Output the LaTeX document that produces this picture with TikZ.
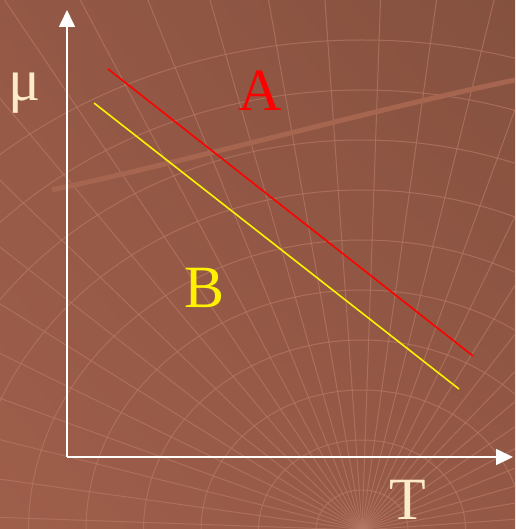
\documentclass[tikz,border=0pt]{standalone}
\usepackage{fontspec}
\setmainfont{Liberation Serif}
\usetikzlibrary{arrows.meta,shadings}
\definecolor{bgdark}{HTML}{85513F}
\definecolor{bglight}{HTML}{9E5E4A}
\definecolor{gridline}{HTML}{B57864}
\definecolor{bandline}{HTML}{A5654F}
\definecolor{cream}{HTML}{FBEBC6}
\definecolor{yellowline}{HTML}{FFF200}
\tikzset{
  axis/.style={white,line width=1.6pt,-{Triangle[width=16pt,length=17pt]}},
  phase/.style={line width=1.6pt},
  biglabel/.style={font=\fontsize{60}{60}\selectfont,inner sep=0pt},
  mesh/.style={gridline,line width=1pt,opacity=0.7}
}
\begin{document}
\begin{tikzpicture}[x=1pt,y=-1pt]
  \useasboundingbox (0,0) rectangle (515,529);
  \shade[lower left=bglight,lower right=bglight!60!bgdark,upper left=bglight!60!bgdark,upper right=bgdark]
    (0,0) rectangle (515,529);
  % background mesh
  \begin{scope}
    \clip (0,0) rectangle (515,529);
    \coordinate (fan) at (362,530);
    \foreach \r in {40,90,...,490}
      \draw[mesh] (fan) ellipse ({1.15*\r} and \r);
    \foreach \a in {4,10,...,178}
      \draw[mesh] (fan) -- ++({cos(\a)*800},{-sin(\a)*800});
    \draw[bandline,line width=5pt] (52,190) .. controls (200,158) and (380,108) .. (515,80);
  \end{scope}
  % axes
  \coordinate (origin) at (67,457);
  \coordinate (ytip) at (67,10);
  \coordinate (xtip) at (513,457);
  \draw[axis] (origin) -- (ytip);
  \draw[axis] (origin) -- (xtip);
  \node[biglabel,cream] (mu) at (25,93) {μ};
  \node[biglabel,cream] (temp) at (408,500) {T};
  % phase lines
  \coordinate (a1) at (108,69);
  \coordinate (a2) at (473,356);
  \coordinate (b1) at (94,103);
  \coordinate (b2) at (459,389);
  \draw[phase,red] (a1) -- (a2);
  \draw[phase,yellowline] (b1) -- (b2);
  \node[biglabel,red] (phaseA) at (260,91) {A};
  \node[biglabel,yellowline] (phaseB) at (205,288) {B};
\end{tikzpicture}
\end{document}
